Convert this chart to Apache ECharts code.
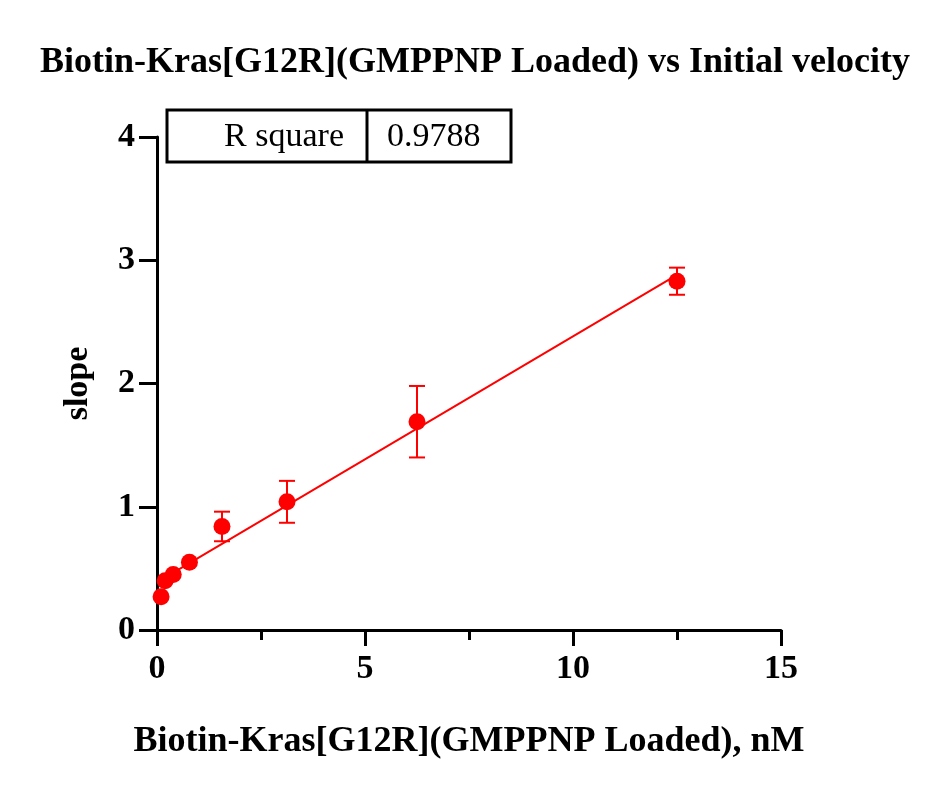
<!DOCTYPE html>
<html><head><meta charset="utf-8">
<script src="https://cdn.jsdelivr.net/npm/echarts@6/dist/echarts.min.js"></script>
<style>html,body{margin:0;background:#fff}#c{width:942px;height:801px}</style>
</head><body><div id="c"></div>
<script>
const conc = [0.098, 0.195, 0.39, 0.78, 1.5625, 3.125, 6.25, 12.5];
const slope = [0.27, 0.40, 0.45, 0.55, 0.84, 1.04, 1.69, 2.83];
const errs = [0, 0, 0, 0, 0.12, 0.17, 0.29, 0.11];
const xTicks = [0, 5, 10, 15];
const yTicks = [0, 1, 2, 3, 4];
const rSquare = '0.9788';

const n = conc.length;
const mx = conc.reduce((a,b)=>a+b)/n, my = slope.reduce((a,b)=>a+b)/n;
let sxy=0,sxx=0;
for(let i=0;i<n;i++){sxy+=(conc[i]-mx)*(slope[i]-my);sxx+=(conc[i]-mx)**2;}
const b=sxy/sxx, a=my-b*mx;
const fitLine=[[conc[0],a+b*conc[0]],[conc[n-1],a+b*conc[n-1]]];

const F='Liberation Serif';
const chart=echarts.init(document.getElementById('c'));
chart.setOption({
  animation:false,
  title:{text:'Biotin-Kras[G12R](GMPPNP Loaded) vs Initial velocity',left:470,top:40,textAlign:'center',
    textStyle:{fontFamily:F,fontWeight:'bold',fontSize:36,color:'#000'}},
  grid:{left:157,right:161,top:137,bottom:171},
  xAxis:{type:'value',min:0,max:15,interval:5,
    name:'Biotin-Kras[G12R](GMPPNP Loaded), nM',nameLocation:'middle',nameGap:94,
    nameTextStyle:{fontFamily:F,fontWeight:'bold',fontSize:36,color:'#000'},
    axisLine:{lineStyle:{color:'#000',width:3}},
    axisTick:{length:16,lineStyle:{width:3,color:'#000'}},
    minorTick:{show:true,splitNumber:2,length:10,lineStyle:{width:3,color:'#000'}},
    axisLabel:{fontFamily:F,fontWeight:'bold',fontSize:34,color:'#000',margin:22},
    splitLine:{show:false}},
  yAxis:{type:'value',min:0,max:4,interval:1,
    name:'slope',nameLocation:'middle',nameGap:62,
    nameTextStyle:{fontFamily:F,fontWeight:'bold',fontSize:34,color:'#000'},
    axisLine:{show:true,lineStyle:{color:'#000',width:3}},
    axisTick:{show:true,length:18,lineStyle:{width:3,color:'#000'}},
    axisLabel:{fontFamily:F,fontWeight:'bold',fontSize:34,color:'#000',margin:22},
    splitLine:{show:false}},
  series:[
    {type:'line',data:fitLine,symbol:'none',lineStyle:{color:'#ff0000',width:2},z:2},
    {type:'custom',z:3,data:conc.map((x,i)=>[x,slope[i],errs[i]]),
      renderItem:(p,api)=>{
        const x=api.value(0),y=api.value(1),e=api.value(2);
        if(!e) return {type:'group',children:[]};
        const t=api.coord([x,y+e]),bo=api.coord([x,y-e]);
        const s={stroke:'#ff0000',lineWidth:2};
        return {type:'group',children:[
          {type:'line',shape:{x1:t[0],y1:t[1],x2:bo[0],y2:bo[1]},style:s},
          {type:'line',shape:{x1:t[0]-8,y1:t[1],x2:t[0]+8,y2:t[1]},style:s},
          {type:'line',shape:{x1:bo[0]-8,y1:bo[1],x2:bo[0]+8,y2:bo[1]},style:s}]};
      }},
    {type:'scatter',data:conc.map((x,i)=>[x,slope[i]]),symbol:'circle',symbolSize:17,
      itemStyle:{color:'#ff0000',opacity:1},z:4}
  ],
  graphic:[
    {type:'rect',shape:{x:167,y:110,width:344,height:52},style:{fill:'#fff',stroke:'#000',lineWidth:3}},
    {type:'line',shape:{x1:367,y1:110,x2:367,y2:162},style:{stroke:'#000',lineWidth:3}},
    {type:'text',x:344,y:137,style:{text:'R square',align:'right',verticalAlign:'middle',fontFamily:F,fontSize:34,fill:'#000'}},
    {type:'text',x:387,y:137,style:{text:rSquare,align:'left',verticalAlign:'middle',fontFamily:F,fontSize:34,fill:'#000'}}
  ]
});
</script></body></html>
